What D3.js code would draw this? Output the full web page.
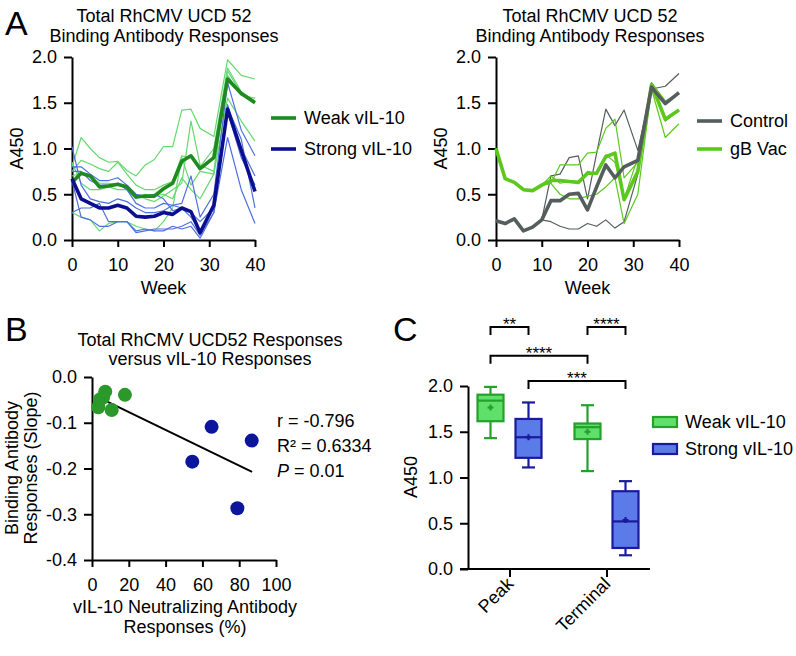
<!DOCTYPE html>
<html>
<head>
<meta charset="utf-8">
<script src="https://cdn.jsdelivr.net/npm/d3@7"></script>
<style>
body { margin: 0; background: #fff; }
svg text { font-family: "Liberation Sans", Arial, Helvetica, sans-serif; fill: #000; }
.axis path, .axis line { stroke: #000; stroke-width: 2; }
.axis text { font-size: 18px; font-family: "Liberation Sans", Arial, Helvetica, sans-serif; }
</style>
</head>
<body>
<svg id="fig" width="796" height="656"></svg>
<script>
// ---- data: panel A (weeks after infection, A450) ----
const weeks = [0, 2, 4, 6, 8, 10, 12, 14, 16, 18, 20, 22, 24, 26, 28, 31, 34, 37, 40];

const weakMean   = [0.63, 0.73, 0.70, 0.58, 0.59, 0.61, 0.58, 0.47, 0.48, 0.48, 0.56, 0.62, 0.86, 0.92, 0.78, 0.90, 1.76, 1.60, 1.50];
const strongMean = [0.67, 0.45, 0.40, 0.35, 0.35, 0.38, 0.35, 0.26, 0.25, 0.26, 0.30, 0.28, 0.35, 0.31, 0.08, 0.38, 1.43, 0.98, 0.53];

const weakAnimals = [
  [0.80, 1.12, 1.00, 0.90, 0.85, 0.86, 0.76, 0.70, 0.82, 0.88, 1.02, 1.02, 1.42, 1.43, 1.22, 1.13, 1.97, 1.80, 1.76],
  [0.75, 0.87, 0.83, 0.78, 0.75, 0.85, 0.72, 0.60, 0.55, 0.55, 0.60, 0.64, 0.92, 0.90, 0.80, 1.00, 1.88, 1.62, 1.52],
  [0.70, 0.73, 0.70, 0.62, 0.62, 0.60, 0.60, 0.50, 0.45, 0.42, 0.48, 0.55, 0.62, 1.30, 0.82, 0.75, 1.80, 1.58, 1.55],
  [0.85, 0.62, 0.55, 0.55, 0.58, 0.55, 0.55, 0.45, 0.50, 0.48, 0.50, 0.45, 0.68, 0.55, 0.45, 0.72, 1.55, 1.30, 1.08],
  [0.30, 0.25, 0.22, 0.10, 0.18, 0.20, 0.20, 0.15, 0.12, 0.10, 0.20, 0.35, 0.90, 0.60, 0.75, 0.72, 1.85, 1.60, 1.50]
];
const strongAnimals = [
  [1.02, 0.60, 0.45, 0.42, 0.40, 0.45, 0.42, 0.35, 0.30, 0.30, 0.32, 0.38, 0.40, 0.70, 0.25, 0.50, 1.72, 1.20, 0.92],
  [0.80, 0.80, 0.72, 0.65, 0.65, 0.68, 0.60, 0.50, 0.48, 0.50, 0.45, 0.32, 0.35, 0.30, 0.20, 0.35, 1.48, 1.00, 0.70],
  [0.75, 0.75, 0.65, 0.60, 0.60, 0.62, 0.55, 0.40, 0.35, 0.35, 0.40, 0.38, 0.35, 0.25, 0.10, 0.35, 1.45, 1.10, 0.35],
  [0.30, 0.35, 0.35, 0.40, 0.20, 0.20, 0.20, 0.08, 0.10, 0.12, 0.12, 0.12, 0.15, 0.20, 0.05, 0.30, 1.12, 0.55, 0.18],
  [0.65, 0.25, 0.22, 0.15, 0.15, 0.20, 0.20, 0.10, 0.12, 0.10, 0.10, 0.15, 0.12, 0.15, 0.02, 0.30, 1.40, 0.90, 0.60]
];

const controlMean = [0.21, 0.18, 0.23, 0.10, 0.14, 0.22, 0.43, 0.43, 0.50, 0.51, 0.33, 0.58, 0.82, 0.68, 0.80, 0.87, 1.67, 1.49, 1.61];
const gbMean      = [1.00, 0.67, 0.63, 0.55, 0.54, 0.60, 0.65, 0.65, 0.64, 0.63, 0.73, 0.73, 0.91, 0.95, 0.44, 0.75, 1.70, 1.32, 1.42];
const controlAnimals = [
  [0.21, 0.18, 0.23, 0.10, 0.14, 0.22, 0.70, 0.72, 0.90, 0.92, 0.45, 0.95, 1.43, 1.25, 1.42, 0.98, 1.65, 1.68, 1.82],
  [0.21, 0.18, 0.23, 0.10, 0.14, 0.22, 0.20, 0.15, 0.12, 0.12, 0.18, 0.15, 0.22, 0.13, 0.20, 0.72, 1.68, 1.30, 1.42]
];
const gbAnimals = [
  [1.00, 0.67, 0.63, 0.55, 0.54, 0.60, 0.62, 0.82, 0.82, 0.82, 0.95, 0.96, 1.22, 1.32, 0.68, 0.85, 1.72, 1.52, 1.60],
  [1.00, 0.67, 0.63, 0.55, 0.54, 0.60, 0.62, 0.50, 0.45, 0.45, 0.48, 0.50, 0.58, 0.68, 0.18, 0.50, 1.65, 1.12, 1.27],
  [1.00, 0.67, 0.63, 0.55, 0.54, 0.60, 0.70, 0.62, 0.64, 0.62, 0.75, 0.72, 0.93, 0.85, 0.45, 0.90, 1.72, 1.32, 1.42]
];

// ---- data: panel B ----
const weakNeut    = [7.2, 17.9, 4.3, 3.4, 10.7, 6.0];
const weakSlope   = [-0.032, -0.039, -0.049, -0.066, -0.072, -0.045];
const strongNeut  = [65, 86.8, 54.5, 79];
const strongSlope = [-0.109, -0.139, -0.185, -0.287];
const fitSlope = -0.00195;
const fitIntercept = -0.0376;
const fitRange = [8, 87];
const statLines = ["r = -0.796", "R² = 0.6334", "P = 0.01"];

// ---- data: panel C ----
const timepoints = ["Peak", "Terminal"];
const groups = ["Weak vIL-10", "Strong vIL-10"];
const boxTime  = ["Peak", "Peak", "Terminal", "Terminal"];
const boxGroup = ["Weak vIL-10", "Strong vIL-10", "Weak vIL-10", "Strong vIL-10"];
const boxMin  = [1.43, 1.11, 1.07, 0.15];
const boxQ1   = [1.615, 1.215, 1.42, 0.23];
const boxMed  = [1.84, 1.44, 1.55, 0.52];
const boxQ3   = [1.905, 1.64, 1.59, 0.85];
const boxMax  = [1.99, 1.82, 1.79, 0.96];
const boxMean = [1.765, 1.44, 1.50, 0.535];
const sigFrom  = [0, 2, 0, 1];
const sigTo    = [1, 3, 2, 3];
const sigLabel = ["**", "****", "****", "***"];

// ---- colours ----
const cWeak = "#1f8a1f", cWeakThin = "#66d870";
const cStrong = "#0b0f8f", cStrongThin = "#4f6fe0";
const cControl = "#555d5d", cGb = "#5cc81e";

const svg = d3.select("#fig");

function text(g, x, y, s, size, anchor) {
  return g.append("text").attr("x", x).attr("y", y).attr("font-size", size || 18)
    .attr("text-anchor", anchor || "middle").text(s);
}

function axes(x, y, xTicks, yTicks, yFmt) {
  const x0 = x.range()[0], y0 = y.range()[0];
  svg.append("g").attr("class", "axis").attr("transform", `translate(0,${y0})`)
    .call(d3.axisBottom(x).tickValues(xTicks).tickSize(7).tickPadding(11).tickSizeOuter(0).tickFormat(d3.format("d")));
  svg.append("g").attr("class", "axis").attr("transform", `translate(${x0},0)`)
    .call(d3.axisLeft(y).tickValues(yTicks).tickSize(8).tickPadding(7).tickSizeOuter(0).tickFormat(yFmt));
}
const f1 = d => (Math.abs(d) < 1e-9 ? 0 : d).toFixed(1);

// ================= Panel A =================
text(svg, 5, 35, "A", 34, "start");

function timePanel(x, y, cx, thin, thick, legend) {
  text(svg, cx, 22, "Total RhCMV UCD 52");
  text(svg, cx, 42, "Binding Antibody Responses");
  axes(x, y, [0, 10, 20, 30, 40], [0, 0.5, 1, 1.5, 2], f1);
  const line = d3.line().x((d, i) => x(weeks[i])).y(d => y(d));
  thin.forEach(t => t.data.forEach(s =>
    svg.append("path").attr("d", line(s)).attr("fill", "none")
      .attr("stroke", t.color).attr("stroke-width", 1.2).attr("stroke-linejoin", "round")));
  thick.forEach(t =>
    svg.append("path").attr("d", line(t.data)).attr("fill", "none")
      .attr("stroke", t.color).attr("stroke-width", 3.6).attr("stroke-linejoin", "round"));
  const xm = x.range()[0] + (x.range()[1] - x.range()[0]) / 2;
  text(svg, xm, 294, "Week");
  text(svg, 0, 0, "A450").attr("transform", `translate(${x.range()[0] - 55},${y(1)}) rotate(-90)`).attr("dy", "0.35em");
  legend.forEach(l => {
    svg.append("line").attr("x1", l.x).attr("x2", l.x + 25).attr("y1", l.y).attr("y2", l.y)
      .attr("stroke", l.color).attr("stroke-width", 3.6);
    text(svg, l.x + 33, l.y, l.label, 18, "start").attr("dy", "0.35em");
  });
}

const xA = d3.scaleLinear().domain([0, 40]).range([72, 255]);
const yA = d3.scaleLinear().domain([0, 2]).range([240, 57]);
timePanel(xA, yA, 164,
  [{ data: weakAnimals, color: cWeakThin }, { data: strongAnimals, color: cStrongThin }],
  [{ data: weakMean, color: cWeak }, { data: strongMean, color: cStrong }],
  [{ x: 271, y: 118, color: cWeak, label: "Weak vIL-10" },
   { x: 271, y: 149, color: cStrong, label: "Strong vIL-10" }]);

const xA2 = d3.scaleLinear().domain([0, 40]).range([496, 679]);
timePanel(xA2, yA, 590,
  [{ data: controlAnimals, color: cControl }, { data: gbAnimals, color: cGb }],
  [{ data: gbMean, color: cGb }, { data: controlMean, color: cControl }],
  [{ x: 697, y: 121, color: cControl, label: "Control" },
   { x: 697, y: 149, color: cGb, label: "gB Vac" }]);

// ================= Panel B =================
text(svg, 5, 341, "B", 34, "start");
text(svg, 210, 346, "Total RhCMV UCD52 Responses");
text(svg, 210, 365, "versus vIL-10 Responses");
const xB = d3.scaleLinear().domain([0, 100]).range([92, 276]);
const yB = d3.scaleLinear().domain([-0.4, 0]).range([560, 377]);
axes(xB, yB, [0, 20, 40, 60, 80, 100], [0, -0.1, -0.2, -0.3, -0.4], f1);
text(svg, 185, 613, "vIL-10 Neutralizing Antibody");
text(svg, 185, 633, "Responses (%)");
const yl = svg.append("text").attr("font-size", 18).attr("text-anchor", "middle")
  .attr("transform", `translate(0,468) rotate(-90)`);
yl.append("tspan").attr("x", 0).attr("y", 18).text("Binding Antibody");
yl.append("tspan").attr("x", 0).attr("y", 37).text("Responses (Slope)");

svg.append("line")
  .attr("x1", xB(fitRange[0])).attr("y1", yB(fitIntercept + fitSlope * fitRange[0]))
  .attr("x2", xB(fitRange[1])).attr("y2", yB(fitIntercept + fitSlope * fitRange[1]))
  .attr("stroke", "#000").attr("stroke-width", 2);
svg.append("g").selectAll("circle").data(weakNeut).join("circle")
  .attr("cx", d => xB(d)).attr("cy", (d, i) => yB(weakSlope[i])).attr("r", 7).attr("fill", "#2a992a");
svg.append("g").selectAll("circle").data(strongNeut).join("circle")
  .attr("cx", d => xB(d)).attr("cy", (d, i) => yB(strongSlope[i])).attr("r", 7).attr("fill", "#0b169c");

text(svg, 277, 427, statLines[0], 18, "start");
text(svg, 277, 452, statLines[1], 18, "start");
const pt = text(svg, 277, 477, "", 18, "start");
pt.append("tspan").attr("font-style", "italic").text(statLines[2].slice(0, 1));
pt.append("tspan").text(statLines[2].slice(1));

// ================= Panel C =================
text(svg, 393, 341, "C", 34, "start");
const xC = d3.scalePoint().domain(timepoints).range([461, 655]).padding(0.5);
const gC = d3.scaleBand().domain(groups).range([-38, 38]);
const yC = d3.scaleLinear().domain([0, 2]).range([569, 386]);
svg.append("g").attr("class", "axis").attr("transform", "translate(468,0)")
  .call(d3.axisLeft(yC).tickValues([0, 0.5, 1, 1.5, 2]).tickSize(8).tickPadding(7).tickSizeOuter(0).tickFormat(f1));
const xAxC = svg.append("g").attr("class", "axis").attr("transform", "translate(0,569)")
  .call(d3.axisBottom(xC).tickSize(8).tickSizeOuter(0).tickFormat(""));
xAxC.select(".domain").remove();
svg.append("line").attr("x1", 460).attr("x2", 650).attr("y1", 569).attr("y2", 569)
  .attr("stroke", "#000").attr("stroke-width", 2);
timepoints.forEach(t => {
  text(svg, 0, 0, t, 18, "end").attr("transform", `translate(${xC(t) + 5},${585}) rotate(-45)`);
});
text(svg, 0, 0, "A450").attr("transform", `translate(411,477) rotate(-90)`).attr("dy", "0.35em");

const boxFill = { "Weak vIL-10": "#5fe06b", "Strong vIL-10": "#5b7be8" };
const boxStroke = { "Weak vIL-10": "#25a02b", "Strong vIL-10": "#1a1a9c" };
const bw = 26;
const cxBox = i => xC(boxTime[i]) + gC(boxGroup[i]) + gC.bandwidth() / 2;
boxTime.forEach((t, i) => {
  const g = svg.append("g").attr("stroke", boxStroke[boxGroup[i]]).attr("stroke-width", 2.2);
  const cx = cxBox(i);
  g.append("line").attr("x1", cx).attr("x2", cx).attr("y1", yC(boxMax[i])).attr("y2", yC(boxMin[i]));
  g.append("line").attr("x1", cx - 6.5).attr("x2", cx + 6.5).attr("y1", yC(boxMax[i])).attr("y2", yC(boxMax[i]));
  g.append("line").attr("x1", cx - 6.5).attr("x2", cx + 6.5).attr("y1", yC(boxMin[i])).attr("y2", yC(boxMin[i]));
  g.append("rect").attr("x", cx - bw / 2).attr("width", bw)
    .attr("y", yC(boxQ3[i])).attr("height", yC(boxQ1[i]) - yC(boxQ3[i]))
    .attr("fill", boxFill[boxGroup[i]]);
  g.append("line").attr("x1", cx - bw / 2).attr("x2", cx + bw / 2).attr("y1", yC(boxMed[i])).attr("y2", yC(boxMed[i]));
  const my = yC(boxMean[i]);
  g.append("line").attr("x1", cx - 3).attr("x2", cx + 3).attr("y1", my).attr("y2", my);
  g.append("line").attr("x1", cx).attr("x2", cx).attr("y1", my - 3).attr("y2", my + 3);
});

// bracket heights in A450 units above the plot
const sigLevel = [2.645, 2.645, 2.33, 2.055];
sigFrom.forEach((a, k) => {
  const x1 = cxBox(a), x2 = cxBox(sigTo[k]), y = yC(sigLevel[k]);
  svg.append("path").attr("d", `M${x1},${y + 8}V${y}H${x2}V${y + 8}`)
    .attr("fill", "none").attr("stroke", "#000").attr("stroke-width", 2);
  text(svg, (x1 + x2) / 2, y + 3, sigLabel[k], 17);
});

groups.forEach((gname, i) => {
  const ly = 422 + i * 27;
  svg.append("rect").attr("x", 653).attr("y", ly - 5).attr("width", 24).attr("height", 10)
    .attr("fill", boxFill[gname]).attr("stroke", boxStroke[gname]).attr("stroke-width", 2.2);
  text(svg, 685, ly, gname, 18, "start").attr("dy", "0.35em");
});
</script>
</body>
</html>
